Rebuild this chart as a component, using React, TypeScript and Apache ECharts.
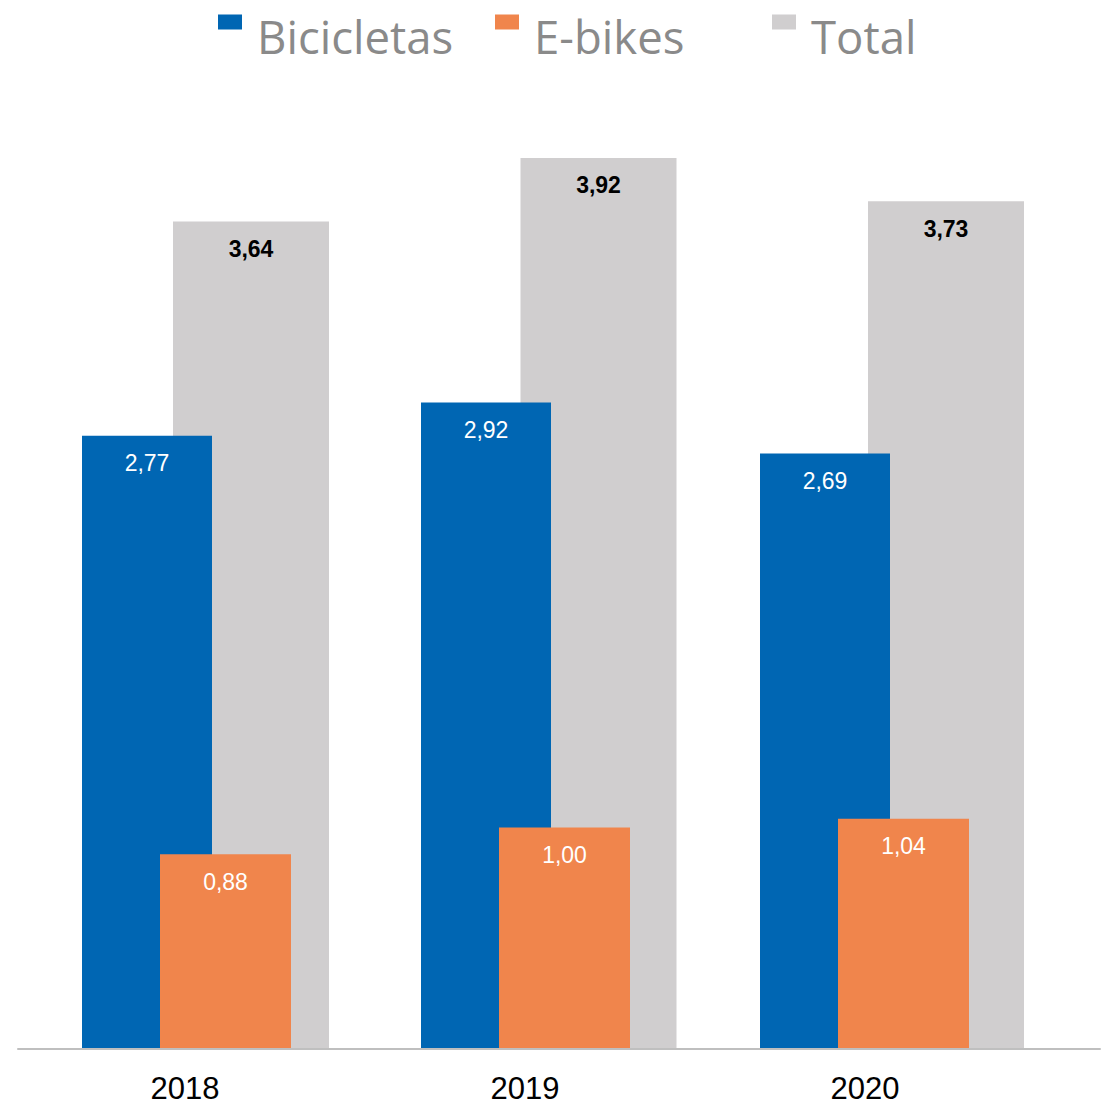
import React, { useEffect, useRef } from "react";
import * as echarts from "echarts";

const years = ["2018", "2019", "2020"];
const bicicletas = [2.77, 2.92, 2.69];
const ebikes = [0.88, 1.0, 1.04];
const total = [3.64, 3.92, 3.73];
const legendNames = ["Bicicletas", "E-bikes", "Total"];

const BLUE = "#0066b3";
const ORANGE = "#f0854c";
const GRAY = "#d0cecf";

const fmt = (p: any) => Number(p.value).toFixed(2).replace(".", ",");

// square icon drawn in the upper-left part of the legend item box
const LEGEND_ICON = "path://M0,0H24V15H0Z M34,43L34,43";

export default function App() {
  const ref = useRef<HTMLDivElement>(null);
  useEffect(() => {
    document.body.style.margin = "0";
    const chart = echarts.init(ref.current!, null, { renderer: "svg" });
    const top = 100;
    const bottom = 56;
    const hiddenY = (gridIndex: number, max: number) => ({
      type: "value",
      gridIndex,
      min: 0,
      max,
      show: false,
      splitLine: { show: false },
    });
    const hiddenX = (gridIndex: number) => ({
      type: "category",
      gridIndex,
      data: years,
      boundaryGap: false,
      show: false,
    });
    const legendLefts = [213, 490, 767];
    const legend = legendNames.map((name, i) => ({
      data: [name],
      left: legendLefts[i],
      top: 8,
      icon: LEGEND_ICON,
      itemWidth: 34,
      itemHeight: 43,
      textStyle: {
        fontFamily: "Open Sans",
        fontSize: 45.5,
        color: "#8a8a8a",
      },
    }));
    chart.setOption({
      animation: false,
      backgroundColor: "#ffffff",
      legend,
      grid: [
        { left: 185, width: 680, top, bottom },
        { left: 147, width: 678, top, bottom },
        { left: 225.5, width: 678, top, bottom },
        { left: 251, width: 695, top, bottom },
        { left: 18, right: 2, top, bottom },
      ],
      xAxis: [
        {
          type: "category",
          gridIndex: 0,
          data: years,
          boundaryGap: false,
          axisLine: { show: false },
          axisTick: { show: false },
          axisLabel: {
            fontFamily: "Liberation Sans",
            fontSize: 31,
            color: "#000000",
            margin: 24,
          },
        },
        hiddenX(1),
        hiddenX(2),
        hiddenX(3),
        {
          type: "value",
          gridIndex: 4,
          min: 0,
          max: 1,
          z: 5,
          axisLine: { show: true, lineStyle: { color: "#bfbfbf", width: 2 } },
          axisTick: { show: false },
          axisLabel: { show: false },
          splitLine: { show: false },
        },
      ],
      yAxis: [
        hiddenY(0, 1),
        hiddenY(1, 4.286),
        hiddenY(2, 4.286),
        hiddenY(3, 4.175),
        hiddenY(4, 1),
      ],
      series: [
        {
          name: "Total",
          type: "bar",
          xAxisIndex: 3,
          yAxisIndex: 3,
          data: total,
          barWidth: 156,
          itemStyle: { color: GRAY },
          z: 1,
          label: {
            show: true,
            position: "insideTop",
            distance: 16,
            formatter: fmt,
            fontFamily: "Liberation Sans",
            fontSize: 23,
            fontWeight: "bold",
            color: "#000000",
          },
        },
        {
          name: "Bicicletas",
          type: "bar",
          xAxisIndex: 1,
          yAxisIndex: 1,
          data: bicicletas,
          barWidth: 130,
          itemStyle: { color: BLUE },
          z: 2,
          label: {
            show: true,
            position: "insideTop",
            distance: 16,
            formatter: fmt,
            fontFamily: "Liberation Sans",
            fontSize: 23,
            color: "#ffffff",
          },
        },
        {
          name: "E-bikes",
          type: "bar",
          xAxisIndex: 2,
          yAxisIndex: 2,
          data: ebikes,
          barWidth: 131,
          itemStyle: { color: ORANGE },
          z: 3,
          label: {
            show: true,
            position: "insideTop",
            distance: 16,
            formatter: fmt,
            fontFamily: "Liberation Sans",
            fontSize: 23,
            color: "#ffffff",
          },
        },
      ],
    });
    return () => chart.dispose();
  }, []);
  return <div ref={ref} style={{ width: 1102, height: 1105 }} />;
}
